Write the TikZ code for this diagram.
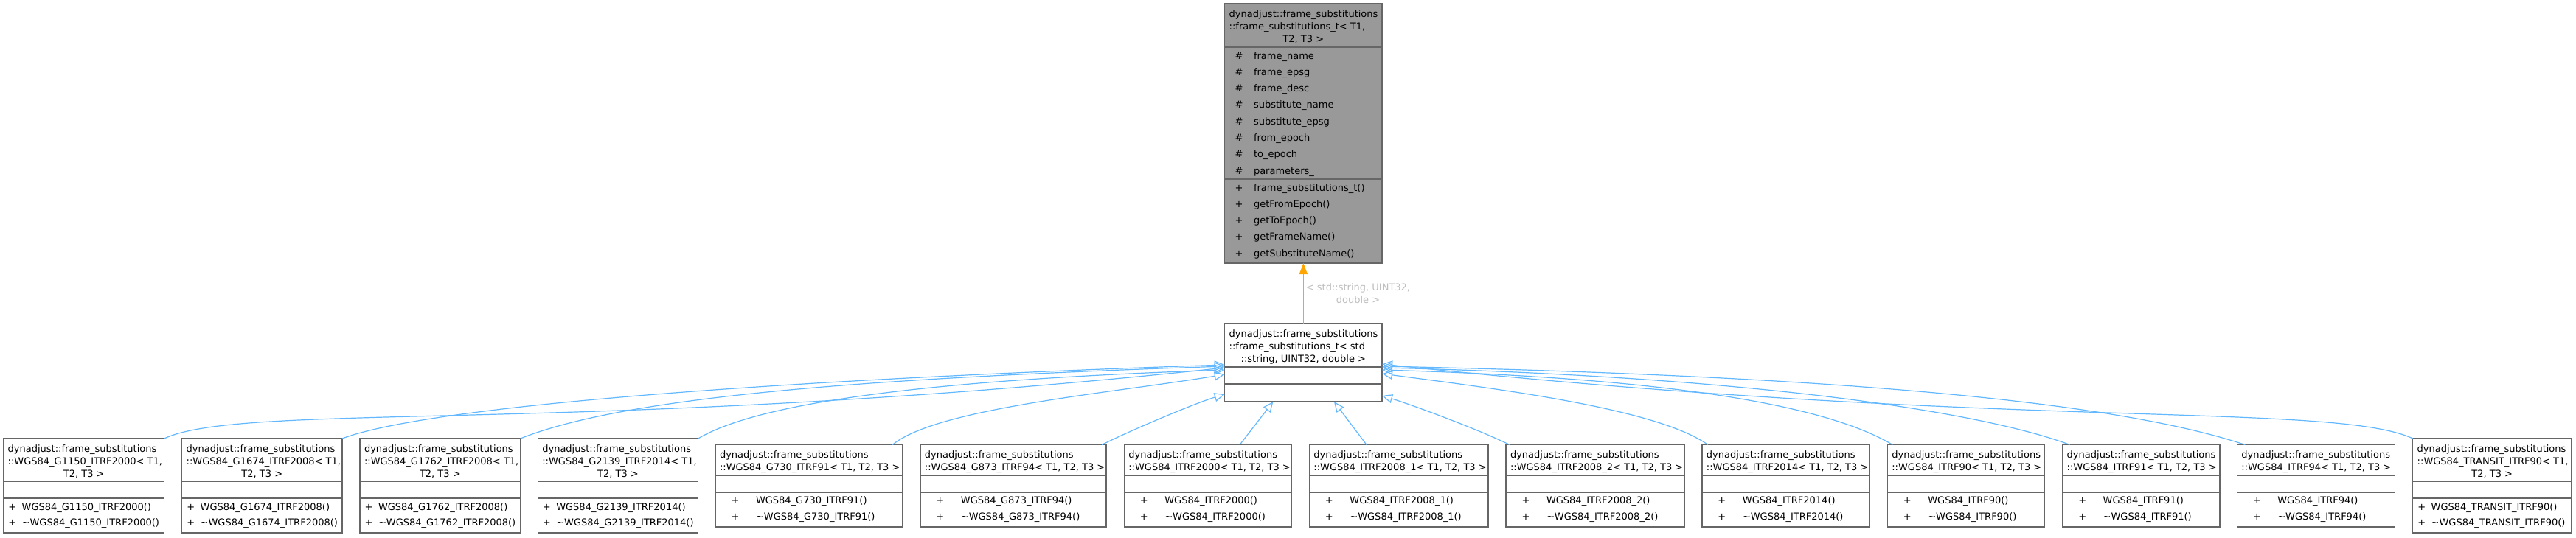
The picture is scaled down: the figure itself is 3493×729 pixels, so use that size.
\documentclass[tikz,border=0pt]{standalone}
\usepackage{fontspec}
\setmainfont{DejaVu Sans}
\usetikzlibrary{arrows.meta}
\definecolor{boxgray}{HTML}{666666}
\definecolor{topfill}{HTML}{999999}
\definecolor{edgeblue}{HTML}{63B8FF}
\definecolor{lblgray}{HTML}{BEBEBE}
\definecolor{tmplorange}{HTML}{FFA500}
\tikzset{
  box/.style={draw=boxgray, line width=1.3pt, fill=white, inner sep=0pt, outer sep=0pt, anchor=north west},
  topbox/.style={box, fill=topfill},
  sepline/.style={draw=boxgray, line width=1.3pt},
  txt/.style={inner sep=0pt, outer sep=0pt, anchor=base west, text=black, font=\fontsize{13}{17}\selectfont},
  txtc/.style={txt, anchor=base},
  inh/.style={draw=edgeblue, line width=1.2pt, -{Triangle[open, length=14pt, width=12pt]}},
  tmpl/.style={draw=tmplorange, line width=1.3pt, -{Triangle[length=15pt, width=11pt]}},
  lbl/.style={txtc, text=lblgray}
}
% 3-line title class box: name, left, width, class
\newcommand\botthree[4]{%
  \node[box, minimum width=#3pt, minimum height=128pt] (#1) at (#2,595) {};
  \draw[sepline] (#2,653) -- ++(#3,0);
  \draw[sepline] (#2,676) -- ++(#3,0);
  \node[txt] (#1a) at ({#2+6},613.3) {dynadjust::frame\_substitutions};
  \node[txt] (#1b) at ({#2+6},630.3) {::#4< T1,};
  \node[txtc] (#1c) at ({#2+#3/2},647.3) {T2, T3 >};
  \node[txtc] (#1d) at ({#2+12},692.2) {+};
  \node[txt] (#1e) at ({#2+25},692.2) {#4()};
  \node[txtc] (#1f) at ({#2+12},713.8) {+};
  \node[txt] (#1g) at ({#2+25},713.8) {\textasciitilde #4()};
}
% 2-line title class box
\newcommand\bottwo[4]{%
  \node[box, minimum width=#3pt, minimum height=111.5pt] (#1) at (#2,603.5) {};
  \draw[sepline] (#2,645.7) -- ++(#3,0);
  \draw[sepline] (#2,668) -- ++(#3,0);
  \node[txt] (#1a) at ({#2+6},621.8) {dynadjust::frame\_substitutions};
  \node[txt] (#1b) at ({#2+6},638.8) {::#4< T1, T2, T3 >};
  \node[txtc] (#1d) at ({#2+27},683.8) {+};
  \node[txt] (#1e) at ({#2+55},683.8) {#4()};
  \node[txtc] (#1f) at ({#2+27},705.5) {+};
  \node[txt] (#1g) at ({#2+55},705.5) {\textasciitilde #4()};
}
\begin{document}
\begin{tikzpicture}[x=1pt, y=-1pt]
\useasboundingbox (0,0) rectangle (3493,729);

% ---- top (template) class
\node[topbox, minimum width=213.3pt, minimum height=352pt] (top) at (1660.7,5) {};
\draw[sepline] (1660.7,64) -- ++(213.3,0);
\draw[sepline] (1660.7,243) -- ++(213.3,0);
\node[txt] (tt1) at (1666.7,23.3) {dynadjust::frame\_substitutions};
\node[txt] (tt2) at (1666.7,40.3) {::frame\_substitutions\_t< T1,};
\node[txtc] (tt3) at (1767.35,57.3) {T2, T3 >};
\foreach \t [count=\i from 0] in {frame\_name, frame\_epsg, frame\_desc, substitute\_name, substitute\_epsg, from\_epoch, to\_epoch, parameters\_}{
  \node[txtc] (th\i) at (1680,{80+22.3*\i}) {\#};
  \node[txt] (ta\i) at (1700,{80+22.3*\i}) {\t};
}
\foreach \t [count=\i from 0] in {frame\_substitutions\_t(), getFromEpoch(), getToEpoch(), getFrameName(), getSubstituteName()}{
  \node[txtc] (tp\i) at (1680,{259+22.3*\i}) {+};
  \node[txt] (tm\i) at (1700,{259+22.3*\i}) {\t};
}

% ---- middle (instantiation) class
\node[box, minimum width=213.3pt, minimum height=106pt] (mid) at (1660.7,439) {};
\draw[sepline] (1660.7,498) -- ++(213.3,0);
\draw[sepline] (1660.7,521) -- ++(213.3,0);
\node[txt] (mt1) at (1666.7,457.3) {dynadjust::frame\_substitutions};
\node[txt] (mt2) at (1666.7,474.3) {::frame\_substitutions\_t< std};
\node[txtc] (mt3) at (1767.35,491.3) {::string, UINT32, double >};

% ---- derived classes
\botthree{n1}{4.7}{218}{WGS84\_G1150\_ITRF2000}
\botthree{n2}{246.7}{217.3}{WGS84\_G1674\_ITRF2008}
\botthree{n3}{488}{217.7}{WGS84\_G1762\_ITRF2008}
\botthree{n4}{729.3}{217.4}{WGS84\_G2139\_ITRF2014}
\bottwo{n5}{970}{253.2}{WGS84\_G730\_ITRF91}
\bottwo{n6}{1247.9}{252.1}{WGS84\_G873\_ITRF94}
\bottwo{n7}{1524.3}{227.5}{WGS84\_ITRF2000}
\bottwo{n8}{1775.4}{242.5}{WGS84\_ITRF2008\_1}
\bottwo{n9}{2042}{242.6}{WGS84\_ITRF2008\_2}
\bottwo{n10}{2307.9}{227.8}{WGS84\_ITRF2014}
\bottwo{n11}{2559.3}{213}{WGS84\_ITRF90}
\bottwo{n12}{2796.7}{213.3}{WGS84\_ITRF91}
\bottwo{n13}{3033.3}{214}{WGS84\_ITRF94}
\botthree{n14}{3271.7}{215}{WGS84\_TRANSIT\_ITRF90}

% ---- template instantiation edge
\draw[tmpl] (mid.north) -- (top.south);
\node[lbl] (l1) at (1841.5,394.5) {< std::string, UINT32,};
\node[lbl] (l2) at (1841.5,411.5) {double >};

% ---- inheritance edges (left)
\draw[inh] (n1.north east) .. controls +(107,-50) and +(-861,91) .. ([yshift=-7pt]mid.west);
\draw[inh] (n2.north east) .. controls +(120,-45) and +(-600,20) .. ([yshift=-3pt]mid.west);
\draw[inh] (n3.north east) .. controls +(150,-60) and +(-450,15) .. ([yshift=-5pt]mid.west);
\draw[inh] (n4.north east) .. controls +(100,-60) and +(-300,10) .. ([yshift=-10pt]mid.west);
\draw[inh] ([xshift=-13pt]n5.north east) .. controls +(60,-50) and +(-150,25) .. ([yshift=-16pt]mid.west);
\draw[inh] ([xshift=-6pt]n6.north east) .. controls +(40,-20) and +(-40,12) .. ([yshift=-43pt]mid.west);
% ---- (bottom)
\draw[inh] ([xshift=43pt]n7.north) -- ([xshift=-41pt]mid.south);
\draw[inh] ([xshift=-43.6pt]n8.north) -- ([xshift=41.6pt]mid.south);
% ---- (right)
\draw[inh] ([xshift=5pt]n9.north west) .. controls +(-40,-20) and +(40,12) .. ([yshift=-45pt]mid.east);
\draw[inh] ([xshift=8pt]n10.north west) .. controls +(-70,-50) and +(150,20) .. ([yshift=-15pt]mid.east);
\draw[inh] ([xshift=7pt]n11.north west) .. controls +(-100,-60) and +(350,10) .. ([yshift=-10pt]mid.east);
\draw[inh] ([xshift=10pt]n12.north west) .. controls +(-120,-45) and +(500,12) .. ([yshift=-7pt]mid.east);
\draw[inh] ([xshift=11pt]n13.north west) .. controls +(-150,-50) and +(700,15) .. ([yshift=-5pt]mid.east);
\draw[inh] (n14.north west) .. controls +(-107,-50) and +(840,90) .. ([yshift=-2pt]mid.east);
\end{tikzpicture}
\end{document}
